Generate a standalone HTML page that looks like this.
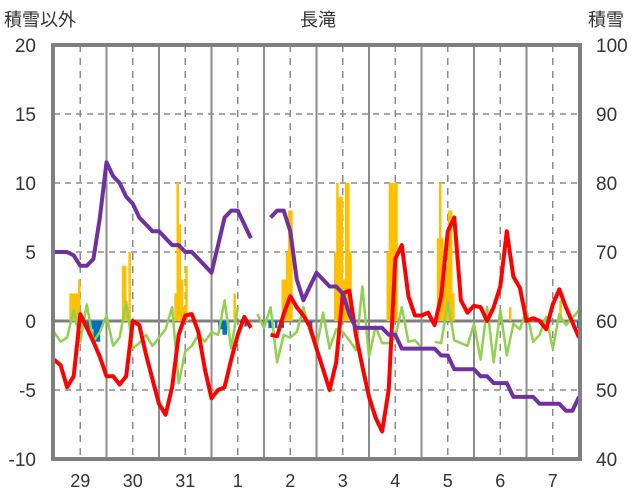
<!DOCTYPE html>
<html><head><meta charset="utf-8"><style>
html,body{margin:0;padding:0;background:#fff;}
svg{display:block;font-family:"Liberation Sans","Noto Sans CJK JP",sans-serif;}
</style></head><body>
<svg id="chart" width="636" height="501" viewBox="0 0 636 501">
<text x="4" y="26" font-size="18" fill="#333">積雪以外</text>
<text x="318" y="26" font-size="18" fill="#333" text-anchor="middle">長滝</text>
<text x="588" y="26" font-size="18" fill="#333">積雪</text>
<g id="grid"></g>
<g id="bars"></g>
<g id="lines"></g>
<g id="axes"></g>
</svg>
<script>
const leftTicks=[20,15,10,5,0,-5,-10];
const rightTicks=[100,90,80,70,60,50,40];
const dayLabels=["29","30","31","1","2","3","4","5","6","7"];
// 3-hourly series (81 points)
const snowDepth=[70,70,70,69.5,68,68,69,75,83,81,80,78,77,75,74,73,73,72,71,71,70,70,69,68,67,71,75,76,76,74,72,null,null,75,76,76,73,66,63,65,67,66,65,65,64,61,59,59,59,59,59,58,58,56,56,56,56,56,56,55,55,53,53,53,53,52,52,51,51,51,49,49,49,49,48,48,48,48,47,47,49];
const tempSeries=[-2.8,-3.2,-4.8,-4,0.5,-0.5,-1.5,-2.6,-4,-4,-4.6,-4,0,-0.3,-2.4,-4.2,-6,-6.8,-4.8,-1,0.4,0.5,-0.8,-3.5,-5.6,-5,-4.8,-2.8,-1,0.3,-0.5,null,null,-1,-1.1,0.5,1.8,1,0.4,-0.4,-2,-3.5,-5,-3,2,2.2,-1,-3.3,-5.5,-7,-8,-5,4.5,5.5,1.8,0.4,0.4,0.6,-0.3,1.8,6.5,7.5,1.5,0.6,1.1,1,0,1,2.5,6.5,3.2,2.4,0,0.2,0,-0.6,1.2,2.3,1,-0.1,-1.2];
const windSeries=[-0.8,-1.5,-1.2,0.8,-1.5,1.2,-1.5,-0.8,0.4,-1.8,-1.2,1.4,-2,-1.6,-1,-1.8,-1.2,-0.6,1,-4.5,-2.2,-1.8,-1,-1.5,-0.8,-1,1.5,-2,1,null,null,0.5,-0.5,1,-3,-1,-1.2,-0.8,1,-0.8,-2,0.6,-2,-0.6,-0.8,-1.4,-2.1,2.5,-2.6,-0.4,-1.6,-1.6,-1.2,1,-1.5,-1.4,-1.9,null,-1.5,-1.6,1.4,-1.4,-1.6,-1.8,-0.2,-2.8,1,-3,0.8,-2.5,-0.2,-0.6,0.8,-1.5,-1,0.3,-2,0.5,-0.3,0.2,0.8];
// hourly precipitation bars (sparse)
const precipHours=[7,8,9,10,11,31,32,33,34,55,56,57,58,59,60,82,104,105,106,107,108,128,129,130,131,132,133,134,135,152,153,154,155,156,175,176,177,178,179,180,181,182,208,231];
const precipValues=[2,2,2,2,3,4,4,1,5,2,10,7,3,1,4,2,3,3,5,8,8,5,10,9,9,3,10,10,5,5,10,10,10,10,6,10,6,3,4,8,8,2,1,1.5];
const dropHours=[15,16,17,18,19,20,21,75,76,77,78,79,85,87,98,99,101,103,104,116,117,239];
const dropValues=[-0.5,-0.6,-0.6,-1.5,-1.5,-1.5,-0.5,-0.5,-0.6,-1,-1,-0.5,-0.4,-0.4,-0.5,-0.5,-0.5,-0.5,-0.5,-0.6,-0.8,-0.5];

const X0=54,X1=579,Y0=45,Y1=459,H=240;
const xH=h=>X0+h*(X1-X0)/H;
const yL=v=>Y1-(v+10)*(Y1-Y0)/30;
const yR=v=>Y1-(v-40)*(Y1-Y0)/60;
const NS="http://www.w3.org/2000/svg";
function mk(tag,parent,attrs){const e=document.createElementNS(NS,tag);for(const k in attrs)e.setAttribute(k,attrs[k]);parent.appendChild(e);return e;}
const grid=document.getElementById('grid'),bars=document.getElementById('bars'),lines=document.getElementById('lines'),axes=document.getElementById('axes');
leftTicks.forEach(v=>{if(v===20||v===-10)return;const y=yL(v);
 const l=mk('line',grid,{x1:X0,x2:X1,y1:y,y2:y,stroke:v===0?'#7f7f7f':'#8c8c8c','stroke-width':v===0?3:1.5,'stroke-dasharray':v===0?'':'6,5'});
 
 });
for(let d=0;d<10;d++){
 const xm=xH(d*24+12);
 const l=mk('line',grid,{x1:xm,x2:xm,y1:Y0,y2:Y1,stroke:'#8c8c8c','stroke-width':1.5,'stroke-dasharray':'7,6'});
 
 
 if(d>0){const xb=xH(d*24);const b=mk('line',grid,{x1:xb,x2:xb,y1:Y0,y2:Y1,stroke:'#8c8c8c','stroke-width':2});
 
 }
 const t=mk('text',axes,{x:xm,y:487,'font-size':18,fill:'#333','text-anchor':'middle'});t.textContent=dayLabels[d];
 
 
}
const bw=(X1-X0)/H;
precipHours.forEach((h,i)=>{const v=precipValues[i];const r=mk('rect',bars,{x:xH(h),y:yL(v),width:bw+0.3,height:yL(0)-yL(v),fill:'#ffc000'});
 
 });
dropHours.forEach((h,i)=>{const v=dropValues[i];const r=mk('rect',bars,{x:xH(h),y:yL(0),width:bw+0.3,height:yL(v)-yL(0),fill:'#0070c0'});
 
 });
function path(arr,yf,color,w,name){let d='',pen=false;arr.forEach((v,i)=>{if(v===null){pen=false;return;}const x=xH(i*3),y=yf(v);d+=(pen?'L':'M')+x.toFixed(1)+' '+y.toFixed(1);pen=true;});
 const p=mk('path',lines,{d:d,fill:'none',stroke:color,'stroke-width':w,'stroke-linejoin':'round'});
 
 }
path(windSeries,yL,'#92d050',2.5,'green-series');
path(tempSeries,yL,'#ff0000',4,'temperature-series');
path(snowDepth,yR,'#7030a0',4,'snow-depth-series');
const f=mk('rect',axes,{x:53,y:45,width:527,height:414,fill:'none',stroke:'#7f7f7f','stroke-width':4});


leftTicks.forEach(v=>{const t=mk('text',axes,{x:36,y:yL(v)+7,'font-size':19,fill:'#333','text-anchor':'end'});t.textContent=v;
 
 });
rightTicks.forEach(v=>{const t=mk('text',axes,{x:596,y:yR(v)+7,'font-size':19,fill:'#333'});t.textContent=v;
 
 });
</script>
</body></html>
